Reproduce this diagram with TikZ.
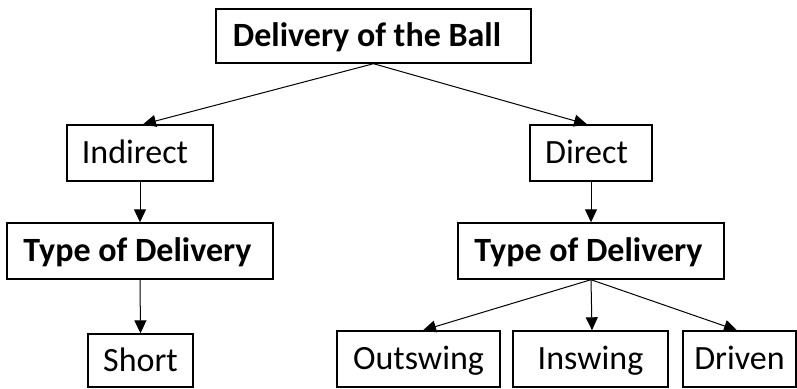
\documentclass[tikz,border=0pt]{standalone}
\usepackage{fontspec}
\setmainfont{Carlito}
\usetikzlibrary{arrows.meta}
\tikzset{
  box/.style={draw=black, line width=1.4pt, inner sep=0pt, align=center,
    text height=21.5pt, text depth=0pt,
    font=\fontsize{34}{40}\selectfont},
  boldbox/.style={box, font=\fontsize{34}{40}\selectfont\bfseries},
  conn/.style={draw=black, line width=1pt, -{Triangle[length=13pt,width=12pt]}}
}
\begin{document}
\begin{tikzpicture}[x=1pt,y=-1pt]
\useasboundingbox (0,0) rectangle (797,388);
\node[boldbox, minimum width=315pt, minimum height=54pt] (top) at (373.5,36) {Delivery of the Ball\hspace{13pt}};
\node[box, minimum width=146pt, minimum height=56pt] (ind) at (140,153) {Indirect\hspace{10pt}};
\node[box, minimum width=122pt, minimum height=56pt] (dir) at (591,153) {Direct\hspace{9pt}};
\node[boldbox, minimum width=266pt, minimum height=56pt] (tod1) at (140,251) {Type of Delivery\hspace{5pt}};
\node[boldbox, minimum width=266pt, minimum height=56pt] (tod2) at (591,251) {Type of Delivery\hspace{5pt}};
\node[box, minimum width=105pt, minimum height=53pt] (short) at (140.5,360.5) {Short};
\node[box, minimum width=163pt, minimum height=56pt] (out) at (418.5,359) {Outswing};
\node[box, minimum width=155pt, minimum height=56pt] (insw) at (590.5,359) {Inswing};
\node[box, minimum width=113pt, minimum height=56pt] (drv) at (739.5,359) {Driven};
\draw[conn] (top.south) -- ([xshift=3pt]ind.north);
\draw[conn] (top.south) -- ([xshift=-4pt]dir.north);
\draw[conn] (ind.south) -- (tod1.north);
\draw[conn] (dir.south) -- (tod2.north);
\draw[conn] (tod1.south) -- (short.north);
\draw[conn] (tod2.south) -- ([xshift=4.5pt]out.north);
\draw[conn] (tod2.south) -- ([xshift=1.5pt]insw.north);
\draw[conn] (tod2.south) -- ([xshift=-2.5pt]drv.north);
\end{tikzpicture}
\end{document}
